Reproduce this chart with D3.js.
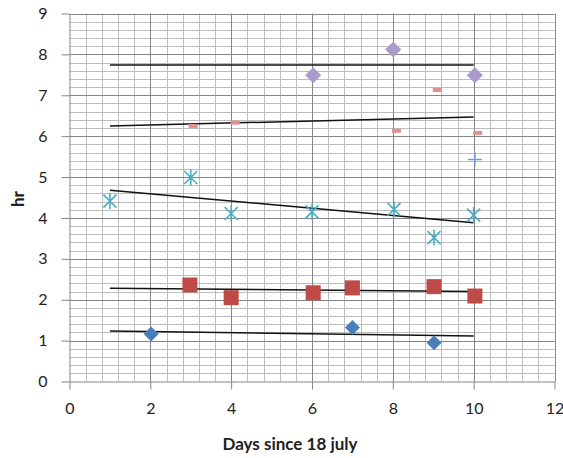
<!DOCTYPE html>
<html><head><meta charset="utf-8">
<script src="https://cdn.jsdelivr.net/npm/d3@7"></script>
<style>body{margin:0;background:#fff}svg{display:block}</style>
</head><body>
<svg id="c" width="563" height="458"></svg>
<script>
// ---- data ----
const xTicks = [0, 2, 4, 6, 8, 10, 12];
const yTicks = [0, 1, 2, 3, 4, 5, 6, 7, 8, 9];
const xTitle = "Days since 18 july";
const yTitle = "hr";

const blueDiamondX = [2.02, 7.0, 9.02];
const blueDiamondY = [1.16, 1.32, 0.95];

const redSquareX = [2.98, 4.0, 6.03, 7.0, 9.02, 10.03];
const redSquareY = [2.36, 2.05, 2.17, 2.29, 2.32, 2.09];

const cyanStarX = [1.0, 3.0, 4.0, 6.0, 8.03, 9.02, 10.0];
const cyanStarY = [4.41, 4.99, 4.11, 4.15, 4.21, 3.52, 4.07];

const plusX = [10.03];
const plusY = [5.43];

const pinkDashX = [3.06, 4.1, 8.09, 9.1, 10.1];
const pinkDashY = [6.25, 6.33, 6.13, 7.13, 6.08];

const purpleDiamondX = [6.03, 8.01, 10.03];
const purpleDiamondY = [7.49, 8.12, 7.49];

// trend lines (from x=1 to x=10)
const trendX = [1, 10];
const trendBlue = [1.235, 1.11];
const trendRed = [2.28, 2.20];
const trendCyan = [4.68, 3.88];
const trendPink = [6.25, 6.47];
const trendPurple = [7.74, 7.74];

// ---- chart ----
const svg = d3.select("#c");
const x = d3.scaleLinear().domain([0, 12]).range([69.5, 554.5]);
const y = d3.scaleLinear().domain([0, 9]).range([381.5, 13.5]);
const font = "Lato, 'Open Sans', 'Liberation Sans', sans-serif";

const g = svg.append("g");
// minor grid
const minorX = d3.range(0, 12.001, 0.4).filter(v => Math.abs(v / 2 - Math.round(v / 2)) > 1e-6);
const minorY = d3.range(0, 9.001, 0.2).filter(v => Math.abs(v - Math.round(v)) > 1e-6);
g.selectAll(".mx").data(minorX).join("line")
  .attr("x1", d => Math.round(x(d)) + 0.5).attr("x2", d => Math.round(x(d)) + 0.5)
  .attr("y1", y(9)).attr("y2", y(0)).attr("stroke", "#bdbdbd").attr("stroke-width", 1);
g.selectAll(".my").data(minorY).join("line")
  .attr("y1", d => Math.round(y(d)) + 0.5).attr("y2", d => Math.round(y(d)) + 0.5)
  .attr("x1", x(0)).attr("x2", x(12)).attr("stroke", "#bdbdbd").attr("stroke-width", 1);
// major grid
g.selectAll(".Mx").data(xTicks.filter(d => d > 0)).join("line")
  .attr("x1", d => Math.round(x(d)) + 0.5).attr("x2", d => Math.round(x(d)) + 0.5)
  .attr("y1", y(9)).attr("y2", y(0)).attr("stroke", "#858585").attr("stroke-width", 1);
g.selectAll(".My").data(yTicks.filter(d => d > 0)).join("line")
  .attr("y1", d => Math.round(y(d)) + 0.5).attr("y2", d => Math.round(y(d)) + 0.5)
  .attr("x1", x(0)).attr("x2", x(12)).attr("stroke", "#858585").attr("stroke-width", 1);

// axes
const xAxis = d3.axisBottom(x).tickValues(xTicks).tickSize(8).tickPadding(13).tickSizeOuter(0);
const yAxis = d3.axisLeft(y).tickValues(yTicks).tickSize(8).tickPadding(14).tickSizeOuter(0);
const gx = svg.append("g").attr("transform", `translate(0,${y(0)})`).call(xAxis);
const gy = svg.append("g").attr("transform", `translate(${x(0)},0)`).call(yAxis);
[gx, gy].forEach(a => {
  a.selectAll("path").attr("stroke", "#858585");
  a.selectAll("line").attr("stroke", "#858585");
  a.selectAll("text").attr("font-family", font).attr("font-size", 16).attr("fill", "#222");
});

// titles
svg.append("text").attr("x", 290).attr("y", 450).attr("text-anchor", "middle")
  .attr("font-family", font).attr("font-weight", "bold").attr("font-size", 17).attr("fill", "#222")
  .text(xTitle);
svg.append("text").attr("transform", `translate(24,${199}) rotate(-90)`).attr("text-anchor", "middle")
  .attr("font-family", font).attr("font-weight", "bold").attr("font-size", 17).attr("fill", "#222")
  .text(yTitle);

// trend lines
const trends = [trendBlue, trendRed, trendCyan, trendPink, trendPurple];
const line = d3.line().x((d, i) => x(trendX[i])).y(d => y(d));
svg.append("g").selectAll("path").data(trends).join("path")
  .attr("d", d => line(d)).attr("fill", "none").attr("stroke", "#111").attr("stroke-width", 1.5);

// markers
function pts(xs, ys) { return xs.map((v, i) => ({ x: v, y: ys[i] })); }
const mk = svg.append("g");
mk.selectAll(".bd").data(pts(blueDiamondX, blueDiamondY)).join("path")
  .attr("transform", d => `translate(${x(d.x)},${y(d.y)})`)
  .attr("d", "M0,-7.5L7.5,0L0,7.5L-7.5,0Z").attr("fill", "#4a7ebb");
mk.selectAll(".rs").data(pts(redSquareX, redSquareY)).join("rect")
  .attr("x", d => x(d.x) - 7.5).attr("y", d => y(d.y) - 7.5).attr("width", 15).attr("height", 15)
  .attr("fill", "#be4b48");
mk.selectAll(".cs").data(pts(cyanStarX, cyanStarY)).join("path")
  .attr("transform", d => `translate(${x(d.x)},${y(d.y)})`)
  .attr("d", "M0,-8V8M-6.5,-6.5L6.5,6.5M-6.5,6.5L6.5,-6.5").attr("fill", "none")
  .attr("stroke", "#4bacc6").attr("stroke-width", 1.6);
mk.selectAll(".pl").data(pts(plusX, plusY)).join("path")
  .attr("transform", d => `translate(${x(d.x)},${y(d.y)})`)
  .attr("d", "M0,-7V7M-7,0H7").attr("fill", "none")
  .attr("stroke", "#7a9ad8").attr("stroke-width", 1.6);
mk.selectAll(".pd").data(pts(pinkDashX, pinkDashY)).join("rect")
  .attr("x", d => x(d.x) - 4.5).attr("y", d => y(d.y) - 2).attr("width", 9).attr("height", 4)
  .attr("fill", "#e4908e");
mk.selectAll(".pu").data(pts(purpleDiamondX, purpleDiamondY)).join("path")
  .attr("transform", d => `translate(${x(d.x)},${y(d.y)})`)
  .attr("d", "M0,-8L8,0L0,8L-8,0Z").attr("fill", "#a99bcc");
</script>
</body></html>
